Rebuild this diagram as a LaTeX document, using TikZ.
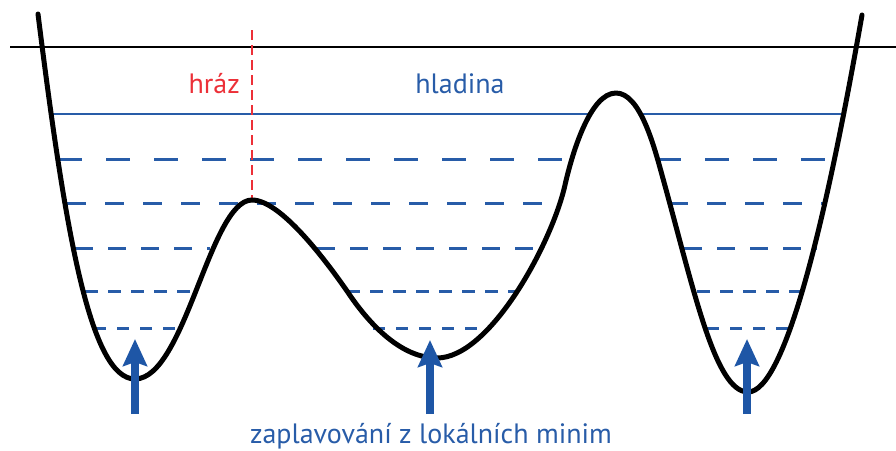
\documentclass[tikz,border=0pt]{standalone}
\usepackage{fontspec}
\setmainfont{PT Sans}
\usetikzlibrary{arrows.meta}
\definecolor{wblue}{RGB}{40,92,168}
\definecolor{ablue}{RGB}{30,86,166}
\definecolor{dred}{RGB}{236,48,56}
\tikzset{
  terrain/.style={line width=5pt, black, line join=round, line cap=round},
  level/.style={line width=3pt, wblue},
  surface/.style={line width=2.2pt, wblue},
  dam/.style={line width=2.4pt, dred, dash pattern=on 10pt off 5pt},
  flood/.style={line width=8pt, ablue, -{Stealth[length=27pt, width=24pt, inset=4pt]}},
  lbl/.style={anchor=base, inner sep=0pt, font=\fontsize{28}{32}\selectfont},
}
\begin{document}
\begin{tikzpicture}[x=1pt, y=-1pt]
\useasboundingbox (0,0) rectangle (896,450);
% horizon line
\coordinate (hl) at (10,47);
\coordinate (hr) at (896,47);
\draw[line width=2.4pt, black] (hl) -- (hr);
% water surface
\draw[surface] (50,114) -- (592,114);
\draw[surface] (640,114) -- (841,114);
% dashed levels
\draw[level, dash pattern=on 24pt off 24pt] (58,159) -- (563,159);
\draw[level, dash pattern=on 24pt off 24pt] (657,159) -- (828,159);
\draw[level, dash pattern=on 19pt off 19pt] (67,203) -- (556,203);
\draw[level, dash pattern=on 19pt off 19pt] (669,203) -- (824,203);
\draw[level, dash pattern=on 18pt off 15pt] (75,248) -- (210,248);
\draw[level, dash pattern=on 18pt off 15pt] (317,248) -- (535,248);
\draw[level, dash pattern=on 18pt off 15pt] (684,248) -- (817,248);
\draw[level, dash pattern=on 13pt off 10pt] (85,291) -- (195,291);
\draw[level, dash pattern=on 13pt off 10pt] (347,291) -- (519,291);
\draw[level, dash pattern=on 13pt off 10pt] (697,291) -- (804,291);
\draw[level, dash pattern=on 12pt off 11pt] (94,328) -- (178,328);
\draw[level, dash pattern=on 12pt off 11pt] (373,328) -- (482,328);
\draw[level, dash pattern=on 12pt off 11pt] (707,328) -- (791,328);
% dam line
\coordinate (damtop) at (252,30);
\coordinate (dambot) at (252,199);
\draw[dam] (damtop) -- (dambot);
% terrain
\draw[terrain] (38,14)
 .. controls (65,230) and (90,379) .. (135,379)
 .. controls (185,379) and (210,200) .. (252,200)
 .. controls (280,200) and (324,258) .. (347,291)
 .. controls (361,312) and (395,358) .. (437,358)
 .. controls (490,358) and (552,243) .. (565,185)
 .. controls (572,154) and (590,93) .. (616,93)
 .. controls (640,93) and (654,146) .. (662,175)
 .. controls (694,290) and (715,392) .. (748,392)
 .. controls (785,392) and (826,220) .. (862,15);
% arrows
\coordinate (a1s) at (135,414); \coordinate (a1e) at (135,339);
\coordinate (a2s) at (430,414); \coordinate (a2e) at (430,340);
\coordinate (a3s) at (747,414); \coordinate (a3e) at (747,339);
\draw[flood] (a1s) -- (a1e);
\draw[flood] (a2s) -- (a2e);
\draw[flood] (a3s) -- (a3e);
% labels
\node[lbl, text=dred, anchor=base east] (hraz) at (240,93) {hráz};
\node[lbl, text=wblue] (hladina) at (460,93) {hladina};
\node[lbl, text=wblue] (zapl) at (431,443) {zaplavování z lokálních minim};
\end{tikzpicture}
\end{document}
